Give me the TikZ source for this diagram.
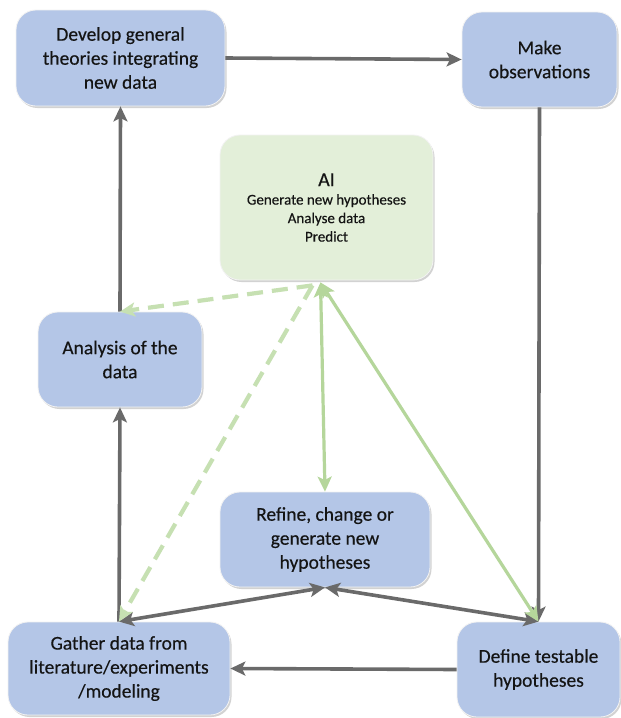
\documentclass[tikz,border=0pt]{standalone}
\usepackage{fontspec}
\setmainfont{Carlito}[BoldFont=Carlito, BoldFeatures={FakeBold=0.35}]
\usetikzlibrary{arrows.meta,shadows,calc}
\definecolor{boxblue}{HTML}{B4C6E7}
\definecolor{boxgreen}{HTML}{E3EFD9}
\definecolor{arrgray}{HTML}{6A6A6A}
\definecolor{arrgreen}{HTML}{B5D69B}
\definecolor{dashgreen}{HTML}{C6E0B2}
\begin{document}
\begin{tikzpicture}[x=1pt,y=-1pt,
  tip/.tip={Stealth[length=15pt,width=14pt,inset=3.5pt]},
  box/.style={rounded corners=20pt, fill=boxblue, draw=white!90!gray, line width=0.8pt,
    align=center, inner sep=0pt, font=\fontsize{19.5}{24}\selectfont\bfseries, text=black!92,
    drop shadow={opacity=0.35, shadow xshift=1.5pt, shadow yshift=-2pt}},
  aibox/.style={box, fill=boxgreen, font=\fontsize{15}{18.5}\selectfont\bfseries},
  garr/.style={draw=arrgray, line width=3.6pt, -tip},
  gdbl/.style={draw=arrgray, line width=3.6pt, tip-tip},
  grn/.style={draw=arrgreen, line width=3.2pt, tip-tip},
  grndash/.style={draw=dashgreen, line width=4.2pt, dash pattern=on 16pt off 9pt, -tip}
]
\useasboundingbox[fill=white] (0,0) rectangle (621,718);

\node[box, minimum width=209pt, minimum height=96pt] (develop) at (120.5,58) {Develop general\\theories integrating\\new data};
\node[box, minimum width=155pt, minimum height=95pt] (make) at (539.5,59.5) {Make\\observations};
\node[aibox, minimum width=213pt, minimum height=145pt] (ai) at (326.5,207.5)
  {\fontsize{20}{22}\selectfont AI\\\fontsize{15}{18.5}\selectfont Generate new hypotheses\\Analyse data\\Predict};
\node[box, minimum width=164pt, minimum height=95pt] (analysis) at (120,359.5) {Analysis of the\\data};
\node[box, minimum width=210pt, minimum height=95pt] (refine) at (325,539.5) {Refine, change or\\generate new\\hypotheses};
\node[box, minimum width=163pt, minimum height=95pt] (define) at (538.5,669.5) {Define testable\\hypotheses};
\node[box, minimum width=222pt, minimum height=93pt] (gather) at (119,668.5) {Gather data from\\literature/experiments\\/modeling};

\coordinate (aib) at ($(ai.south)+(-6,2)$);
\coordinate (aibd) at ($(ai.south)+(-14,5)$);

\draw[garr] (develop.east) -- (make.west);
\draw[garr] (make.south) -- (define.north);
\draw[garr] (define.west) -- (gather.east);
\draw[garr] (gather.north) -- (analysis.south);
\draw[garr] (analysis.north) -- (develop.south);
\draw[gdbl] (gather.north) -- (refine.south);
\draw[gdbl] (refine.south) -- (define.north);

\draw[grn] (aib) -- (refine.north);
\draw[grn] (aib) -- (define.north);
\draw[grndash] (aibd) -- (analysis.north);
\draw[grndash] (aibd) -- (gather.north);
\end{tikzpicture}
\end{document}
